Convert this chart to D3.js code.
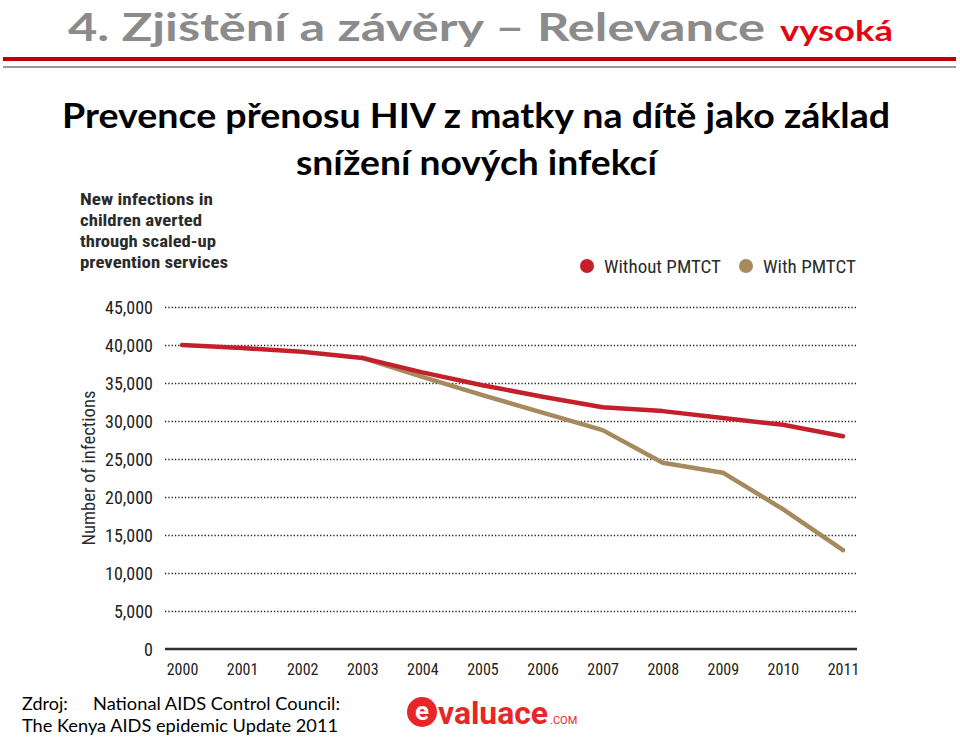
<!DOCTYPE html>
<html lang="cs">
<head>
  <meta charset="utf-8">
  <script src="https://d3js.org/d3.v7.min.js"></script>
  <style>
    body, html { margin: 0; padding: 0; background: #fff; }
    .narrow { font-family: "Liberation Sans Narrow", "Arial Narrow", "Roboto Condensed", Roboto, sans-serif; }
    .calibri { font-family: Lato, "Open Sans", sans-serif; }
  </style>
</head>
<body>
<svg id="slide" width="960" height="738"></svg>

<script>
  // data
  var years = [2000, 2001, 2002, 2003, 2004, 2005, 2006, 2007, 2008, 2009, 2010, 2011];
  var withoutPMTCT = [40000, 39600, 39100, 38300, 36400, 34700, 33200, 31800, 31300, 30400, 29500, 28000];
  var withYears = [2003, 2004, 2005, 2006, 2007, 2008, 2009, 2010, 2011];
  var withPMTCT = [38300, 35800, 33400, 31100, 28800, 24500, 23200, 18400, 13000];
  var yTicks = [0, 5000, 10000, 15000, 20000, 25000, 30000, 35000, 40000, 45000];
  var seriesNames = ["Without PMTCT", "With PMTCT"];
  var seriesColors = ["#c4202c", "#a68a5e"];

  var svg = d3.select("#slide");

  // slide header
  svg.append("text").attr("class", "calibri")
    .attr("x", 68).attr("y", 41)
    .attr("textLength", 697).attr("lengthAdjust", "spacingAndGlyphs")
    .style("font-size", "39px").style("font-weight", "bold").style("fill", "#8b8b8b")
    .text("4. Zjištění a závěry – Relevance");
  svg.append("text").attr("class", "calibri")
    .attr("x", 780).attr("y", 41)
    .attr("textLength", 113).attr("lengthAdjust", "spacingAndGlyphs")
    .style("font-size", "29px").style("font-weight", "bold").style("fill", "#e30613")
    .text("vysoká");
  svg.append("rect").attr("x", 3).attr("y", 57).attr("width", 953).attr("height", 4).attr("fill", "#c00000");
  svg.append("rect").attr("x", 3).attr("y", 66).attr("width", 953).attr("height", 2).attr("fill", "#999");

  svg.append("text").attr("class", "calibri")
    .attr("x", 62).attr("y", 128)
    .attr("textLength", 828).attr("lengthAdjust", "spacingAndGlyphs")
    .style("font-size", "34px").style("font-weight", "bold").style("fill", "#000")
    .text("Prevence přenosu HIV z matky na dítě jako základ");
  svg.append("text").attr("class", "calibri")
    .attr("x", 296).attr("y", 175)
    .attr("textLength", 361).attr("lengthAdjust", "spacingAndGlyphs")
    .style("font-size", "34px").style("font-weight", "bold").style("fill", "#000")
    .text("snížení nových infekcí");

  // chart heading
  var heading = ["New infections in", "children averted", "through scaled-up", "prevention services"];
  var headingW = [133, 122, 136, 148];
  svg.selectAll(".head").data(heading).enter().append("text")
    .attr("class", "narrow head")
    .attr("x", 80).attr("y", function(d, i) { return 205 + i * 21; })
    .attr("textLength", function(d, i) { return headingW[i]; })
    .attr("lengthAdjust", "spacingAndGlyphs")
    .style("font-size", "17px").style("font-weight", "bold").style("fill", "#2b2b2b")
    .text(function(d) { return d; });

  // scales
  var x = d3.scaleLinear().domain([2000, 2011]).range([182, 843]);
  var y = d3.scaleLinear().domain([0, 45000]).range([649, 307]);

  // gridlines
  var grid = svg.append("g").attr("transform", "translate(165,0)")
    .call(d3.axisLeft(y).tickValues(yTicks.filter(function(v) { return v > 0; }))
      .tickSize(-692).tickFormat(""));
  grid.select(".domain").remove();
  grid.selectAll("line").attr("stroke", "#222").attr("stroke-width", 1.3).attr("stroke-dasharray", "1.3,2");

  // y tick labels
  var yAxis = svg.append("g").attr("transform", "translate(153,0)")
    .call(d3.axisLeft(y).tickValues(yTicks).tickSize(0).tickPadding(0).tickFormat(d3.format(",")));
  yAxis.select(".domain").remove();
  yAxis.selectAll("text").attr("class", "narrow").attr("dy", "0.35em")
    .style("font-size", "18px").style("fill", "#222");

  // baseline and x labels
  var xAxis = svg.append("g").attr("transform", "translate(0,649)")
    .call(d3.axisBottom(x).tickValues(years).tickSize(0).tickPadding(0).tickFormat(d3.format("d")));
  xAxis.select(".domain").remove();
  xAxis.selectAll("text").attr("class", "narrow").attr("y", 26).attr("dy", 0)
    .style("font-size", "16px").style("fill", "#222");
  svg.append("line").attr("x1", 165).attr("x2", 857).attr("y1", 649).attr("y2", 649)
    .attr("stroke", "#2f2f2f").attr("stroke-width", 2.5);

  // y title
  svg.append("text").attr("class", "narrow")
    .attr("transform", "translate(95,468) rotate(-90)")
    .attr("text-anchor", "middle")
    .attr("textLength", 155).attr("lengthAdjust", "spacingAndGlyphs")
    .style("font-size", "18px").style("fill", "#2b2b2b")
    .text("Number of infections");

  // lines
  var line = d3.line()
    .x(function(d) { return x(d[0]); })
    .y(function(d) { return y(d[1]); });

  svg.append("path")
    .datum(d3.zip(withYears, withPMTCT))
    .attr("d", line).attr("fill", "none")
    .attr("stroke", seriesColors[1]).attr("stroke-width", 4.5)
    .attr("stroke-linejoin", "round").attr("stroke-linecap", "round");
  svg.append("path")
    .datum(d3.zip(years, withoutPMTCT))
    .attr("d", line).attr("fill", "none")
    .attr("stroke", seriesColors[0]).attr("stroke-width", 4.5)
    .attr("stroke-linejoin", "round").attr("stroke-linecap", "round");

  // legend
  var legX = [587, 746], legW = [117, 93];
  var leg = svg.selectAll(".leg").data(seriesNames).enter().append("g")
    .attr("class", "leg")
    .attr("transform", function(d, i) { return "translate(" + legX[i] + ",266)"; });
  leg.append("circle").attr("r", 7).attr("fill", function(d, i) { return seriesColors[i]; });
  leg.append("text").attr("class", "narrow")
    .attr("x", 17).attr("y", 7)
    .attr("textLength", function(d, i) { return legW[i]; })
    .attr("lengthAdjust", "spacingAndGlyphs")
    .style("font-size", "18px").style("fill", "#2b2b2b")
    .text(function(d) { return d; });

  // source
  svg.append("text").attr("class", "calibri")
    .attr("x", 22).attr("y", 710).style("font-size", "18px").style("fill", "#000")
    .text("Zdroj:");
  svg.append("text").attr("class", "calibri")
    .attr("x", 93).attr("y", 710)
    .attr("textLength", 247).attr("lengthAdjust", "spacingAndGlyphs")
    .style("font-size", "18px").style("fill", "#000")
    .text("National AIDS Control Council:");
  svg.append("text").attr("class", "calibri")
    .attr("x", 22).attr("y", 732)
    .attr("textLength", 316).attr("lengthAdjust", "spacingAndGlyphs")
    .style("font-size", "18px").style("fill", "#000")
    .text("The Kenya AIDS epidemic Update 2011");

  // logo
  var logo = svg.append("g").attr("transform", "translate(407,697)");
  logo.append("circle").attr("cx", 15).attr("cy", 15).attr("r", 15).attr("fill", "#e8262a");
  logo.append("text").attr("x", 15).attr("y", 23).attr("text-anchor", "middle")
    .style("font-family", "Roboto, sans-serif").style("font-size", "26px").style("font-weight", "bold")
    .style("fill", "#fff").text("e");
  logo.append("text").attr("x", 31).attr("y", 27)
    .attr("textLength", 110).attr("lengthAdjust", "spacingAndGlyphs")
    .style("font-family", "Roboto, sans-serif").style("font-size", "32px").style("font-weight", "bold")
    .style("fill", "#e8262a").text("valuace");
  logo.append("text").attr("x", 143).attr("y", 27)
    .style("font-family", "Roboto, sans-serif").style("font-size", "11px")
    .style("fill", "#e8262a").text(".COM");
</script>
</body>
</html>
